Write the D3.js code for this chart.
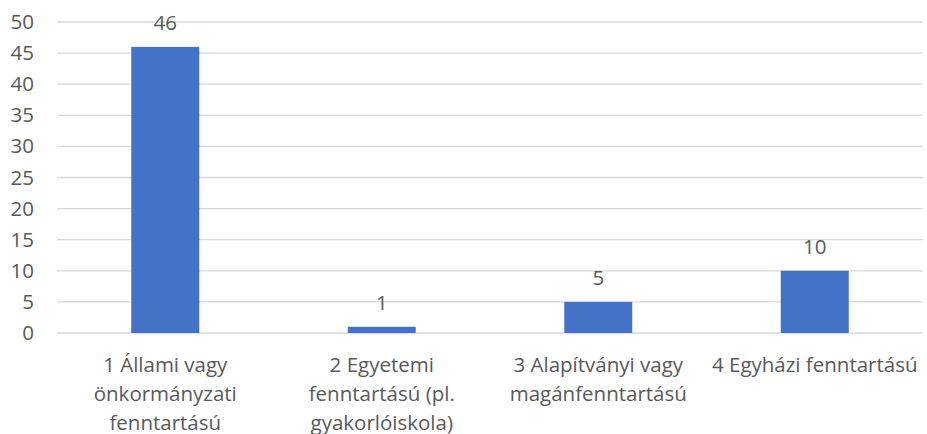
<!DOCTYPE html>
<html>
<head>
<meta charset="utf-8">
<script src="https://cdn.jsdelivr.net/npm/d3@7"></script>
<style>
  body { margin: 0; background: #fff; }
  text { font-family: "Open Sans", sans-serif; fill: #595959; }
</style>
</head>
<body>
<svg id="chart" width="927" height="434"></svg>
<script>
// data
var categories = ["1", "2", "3", "4"];
var categoryLines = [
  ["1 Állami vagy", "önkormányzati", "fenntartású"],
  ["2 Egyetemi", "fenntartású (pl.", "gyakorlóiskola)"],
  ["3 Alapítványi vagy", "magánfenntartású"],
  ["4 Egyházi fenntartású"]
];
var values = [46, 1, 5, 10];
var yTicks = [0, 5, 10, 15, 20, 25, 30, 35, 40, 45, 50];

var fontSize = "20.5px";

var margin = {top: 22, right: 4, bottom: 101, left: 57},
    width = 927 - margin.left - margin.right,
    height = 434 - margin.top - margin.bottom;

var svg = d3.select("#chart")
  .append("g")
  .attr("transform", "translate(" + margin.left + "," + margin.top + ")");

var x = d3.scaleBand()
  .domain(categories)
  .range([0, width])
  .paddingInner(0.686)
  .paddingOuter(0.343);

var y = d3.scaleLinear()
  .domain([0, 50])
  .range([height, 0]);

// gridlines
svg.selectAll(".grid")
  .data(yTicks)
  .enter().append("line")
  .attr("x1", 0)
  .attr("x2", width)
  .attr("y1", function(d) { return y(d); })
  .attr("y2", function(d) { return y(d); })
  .attr("stroke", "#d9d9d9")
  .attr("stroke-width", 1.3);

// y axis labels
var yAxis = d3.axisLeft(y).tickValues(yTicks).tickSize(0).tickPadding(23);
var ya = svg.append("g").call(yAxis);
ya.select(".domain").remove();
ya.selectAll("text")
  .style("font-family", "Open Sans, sans-serif")
  .style("font-size", fontSize)
  .attr("fill", "#595959");

// bars
svg.selectAll(".bar")
  .data(values)
  .enter().append("rect")
  .attr("x", function(d, i) { return x(categories[i]); })
  .attr("width", x.bandwidth())
  .attr("y", function(d) { return y(d); })
  .attr("height", function(d) { return height - y(d); })
  .attr("fill", "#4472c4");

// value labels
svg.selectAll(".val")
  .data(values)
  .enter().append("text")
  .attr("x", function(d, i) { return x(categories[i]) + x.bandwidth() / 2; })
  .attr("y", function(d) { return y(d) - 17; })
  .attr("text-anchor", "middle")
  .style("font-size", fontSize)
  .text(function(d) { return d; });

// category labels
var cat = svg.selectAll(".cat")
  .data(categoryLines)
  .enter().append("text")
  .attr("text-anchor", "middle")
  .style("font-size", fontSize)
  .attr("transform", function(d, i) {
    return "translate(" + (x(categories[i]) + x.bandwidth() / 2) + "," + (height + 39) + ")";
  });

cat.selectAll("tspan")
  .data(function(d) { return d; })
  .enter().append("tspan")
  .attr("x", 0)
  .attr("y", function(d, i) { return i * 29; })
  .text(function(d) { return d; });
</script>
</body>
</html>
